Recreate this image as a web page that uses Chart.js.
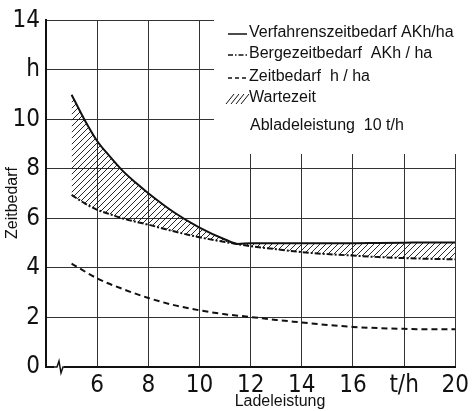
<!DOCTYPE html>
<html>
<head>
<meta charset="utf-8">
<script src="https://cdn.jsdelivr.net/npm/chart.js@4/dist/chart.umd.min.js"></script>
<style>
  html, body { margin: 0; padding: 0; background: #fff; }
  #wrap { width: 473px; height: 411px; }
</style>
</head>
<body>
<div id="wrap"><canvas id="grafico"></canvas></div>
<script>
// Datos
const ladeleistung = [5, 5.5, 6, 6.5, 7, 7.5, 8, 9, 10, 11, 11.5, 12, 13, 14, 15, 16, 17, 18, 19, 20];
const verfahrenszeit = [11.0, 10.0, 9.13, 8.5, 7.92, 7.45, 7.02, 6.25, 5.63, 5.15, 4.97, 5.0, 5.0, 5.0, 5.0, 5.0, 5.01, 5.02, 5.03, 5.03];
const bergezeit = [6.95, 6.62, 6.35, 6.17, 6.0, 5.87, 5.75, 5.48, 5.24, 5.05, 4.96, 4.88, 4.76, 4.64, 4.56, 4.5, 4.44, 4.4, 4.37, 4.35];
const zeitX = [5, 6, 7, 8, 9, 10, 11, 12, 13, 14, 15, 16, 17, 18, 19, 20];
const zeitbedarf = [4.18, 3.58, 3.15, 2.79, 2.5, 2.29, 2.13, 2.02, 1.9, 1.8, 1.7, 1.62, 1.57, 1.54, 1.52, 1.52];

const xTickLabels = { 4: '', 18: 't/h' };
const yTickLabels = { 12: 'h' };

const legendItems = ['Verfahrenszeitbedarf AKh/ha', 'Bergezeitbedarf  AKh / ha', 'Zeitbedarf  h / ha', 'Wartezeit'];
const legendNote = 'Abladeleistung  10 t/h';
const xTitle = 'Ladeleistung';
const yTitle = 'Zeitbedarf';

const tickFont = { family: "'Liberation Sans Narrow', 'DejaVu Sans Condensed', sans-serif", size: 24 };
const textFont = "16px 'Liberation Sans', 'DejaVu Sans', sans-serif";

// Patrón rayado para la zona de espera
function hatch() {
  const s = 6;
  const c = document.createElement('canvas');
  c.width = s; c.height = s;
  const g = c.getContext('2d');
  g.strokeStyle = '#111';
  g.lineWidth = 0.9;
  g.beginPath();
  g.moveTo(0, s); g.lineTo(s, 0);
  g.moveTo(-1, 1); g.lineTo(1, -1);
  g.moveTo(s - 1, s + 1); g.lineTo(s + 1, s - 1);
  g.stroke();
  return g.createPattern(c, 'repeat');
}

const pts = (xs, ys) => xs.map((x, i) => ({ x: x, y: ys[i] }));

const decor = {
  id: 'decor',
  beforeDatasetsDraw(chart) {
    const ctx = chart.ctx;
    // caja blanca de la leyenda
    ctx.save();
    ctx.fillStyle = '#fff';
    ctx.fillRect(214, 15, 245, 139);
    ctx.restore();
  },
  afterDraw(chart) {
    const ctx = chart.ctx;
    const a = chart.chartArea;
    ctx.save();
    ctx.fillStyle = '#111';
    ctx.strokeStyle = '#111';
    ctx.font = textFont;
    ctx.textBaseline = 'middle';
    ctx.textAlign = 'left';

    const ys = [33, 54, 77, 98];
    const dashes = [[], [5, 2, 1.5, 2], [4, 3]];
    for (let i = 0; i < 3; i++) {
      ctx.lineWidth = 1.5;
      ctx.setLineDash(dashes[i]);
      ctx.beginPath();
      ctx.moveTo(228, ys[i] + 1);
      ctx.lineTo(247, ys[i] + 1);
      ctx.stroke();
    }
    ctx.setLineDash([]);
    ctx.lineWidth = 1;
    for (let k = 0; k < 4; k++) {
      ctx.beginPath();
      ctx.moveTo(226 + k * 5, ys[3] + 6);
      ctx.lineTo(234 + k * 5, ys[3] - 4);
      ctx.stroke();
    }
    legendItems.forEach((t, i) => ctx.fillText(t, 249, ys[i]));
    ctx.fillText(legendNote, 250, 126);

    // títulos de los ejes
    ctx.textAlign = 'center';
    ctx.fillText(xTitle, 280, 402);
    ctx.save();
    ctx.translate(13, 203);
    ctx.rotate(-Math.PI / 2);
    ctx.fillText(yTitle, 0, 0);
    ctx.restore();

    // símbolo de corte del eje x
    const y0 = a.bottom;
    ctx.fillStyle = '#fff';
    ctx.fillRect(54, y0 - 2, 10, 4);
    ctx.lineWidth = 1.5;
    ctx.beginPath();
    ctx.moveTo(53, y0);
    ctx.lineTo(57, y0);
    ctx.lineTo(59, y0 - 6);
    ctx.lineTo(61, y0 + 6);
    ctx.lineTo(63, y0);
    ctx.lineTo(66, y0);
    ctx.stroke();
    ctx.restore();
  }
};

new Chart(document.getElementById('grafico'), {
  type: 'line',
  data: {
    datasets: [{
      label: legendItems[0],
      data: pts(ladeleistung, verfahrenszeit),
      borderColor: '#111',
      borderWidth: 2,
      pointRadius: 0,
      tension: 0.4,
      cubicInterpolationMode: 'monotone',
      fill: '+1',
      backgroundColor: hatch()
    }, {
      label: legendItems[1],
      data: pts(ladeleistung, bergezeit),
      borderColor: '#111',
      borderWidth: 2,
      borderDash: [6, 2, 2, 2],
      pointRadius: 0,
      cubicInterpolationMode: 'monotone',
      fill: false
    }, {
      label: legendItems[2],
      data: pts(zeitX, zeitbedarf),
      borderColor: '#111',
      borderWidth: 2,
      borderDash: [6, 4],
      pointRadius: 0,
      cubicInterpolationMode: 'monotone',
      fill: false
    }]
  },
  options: {
    responsive: true,
    maintainAspectRatio: false,
    animation: false,
    layout: { padding: { top: 14, right: 13, left: 0, bottom: 0 } },
    plugins: { legend: { display: false }, tooltip: { enabled: false } },
    scales: {
      x: {
        type: 'linear',
        min: 4, max: 20,
        afterFit: s => { s.height = 44; },
        grid: { color: '#333', lineWidth: 1, drawTicks: false },
        border: { color: '#111', width: 2 },
        ticks: {
          stepSize: 2, padding: 4, color: '#111', font: tickFont,
          callback: v => (v in xTickLabels ? xTickLabels[v] : v)
        }
      },
      y: {
        min: 0, max: 14,
        afterFit: s => { s.width = 46; },
        grid: { color: '#333', lineWidth: 1, drawTicks: false },
        border: { color: '#111', width: 2 },
        ticks: {
          stepSize: 2, padding: 6, color: '#111', font: tickFont,
          callback: v => (v in yTickLabels ? yTickLabels[v] : v)
        }
      }
    }
  },
  plugins: [decor]
});
</script>
</body>
</html>
